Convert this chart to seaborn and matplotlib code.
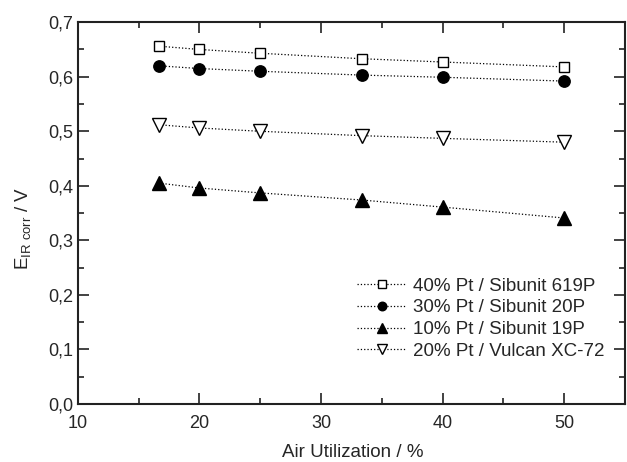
import numpy as np
import pandas as pd
import matplotlib
matplotlib.use("Agg")
import matplotlib.pyplot as plt
import seaborn as sns
from matplotlib.ticker import MultipleLocator, FuncFormatter

air_util = [16.67, 20, 25, 33.33, 40, 50]

labels = [
    "40% Pt / Sibunit 619P",
    "30% Pt / Sibunit 20P",
    "10% Pt / Sibunit 19P",
    "20% Pt / Vulcan XC-72",
]
e_619p = [0.656, 0.650, 0.643, 0.633, 0.627, 0.618]
e_20p = [0.620, 0.615, 0.610, 0.603, 0.599, 0.592]
e_19p = [0.405, 0.396, 0.387, 0.374, 0.361, 0.341]
e_xc72 = [0.512, 0.506, 0.500, 0.492, 0.487, 0.480]

sns.set_theme(style="ticks")
plt.rcParams["font.family"] = ["Liberation Sans", "DejaVu Sans"]
plt.rcParams["mathtext.default"] = "regular"

fig = plt.figure(figsize=(6.27, 4.62), dpi=100)
ax = fig.add_axes([0.124, 0.1255, 0.873, 0.8265])

styles = [
    (e_619p, "s", "white", 6.8),
    (e_20p, "o", "black", 8.2),
    (e_19p, "^", "black", 10.5),
    (e_xc72, "v", "white", 10.5),
]
for (vals, mk, fc, ms), lab in zip(styles, labels):
    df = pd.DataFrame({"x": air_util, "y": vals})
    sns.lineplot(data=df, x="x", y="y", ax=ax, color="black", linestyle=":",
                 linewidth=0.9, marker=mk, markersize=ms, markerfacecolor=fc,
                 markeredgecolor="black", markeredgewidth=1.0, label=lab)

ax.set_xlim(10, 55)
ax.set_ylim(0, 0.7)
ax.xaxis.set_major_locator(MultipleLocator(10))
ax.xaxis.set_minor_locator(MultipleLocator(5))
ax.yaxis.set_major_locator(MultipleLocator(0.1))
ax.yaxis.set_minor_locator(MultipleLocator(0.05))
ax.yaxis.set_major_formatter(FuncFormatter(lambda v, p: f"{v:.1f}".replace(".", ",")))

ax.tick_params(which="both", direction="in", top=True, right=True, labelsize=13,
               width=1.2, color="#222222")
ax.tick_params(which="major", length=8)
ax.tick_params(which="minor", length=4)
ax.tick_params(axis="x", pad=8)
for s in ax.spines.values():
    s.set_linewidth(1.5)
    s.set_color("#222222")

ax.set_xlabel("Air Utilization / %", fontsize=13.5)
ax.set_ylabel(r"E$_{IR\ corr}$ / V", fontsize=13.5)
ax.xaxis.set_label_coords(0.502, -0.105)
ax.yaxis.set_label_coords(-0.082, 0.46)

ax.legend(loc="lower right", bbox_to_anchor=(0.987, 0.081), frameon=False,
          fontsize=13.5, handlelength=2.6, handletextpad=0.4, labelspacing=0.25,
          borderpad=0.2, markerscale=0.75)

fig.savefig("out.png", dpi=100)
